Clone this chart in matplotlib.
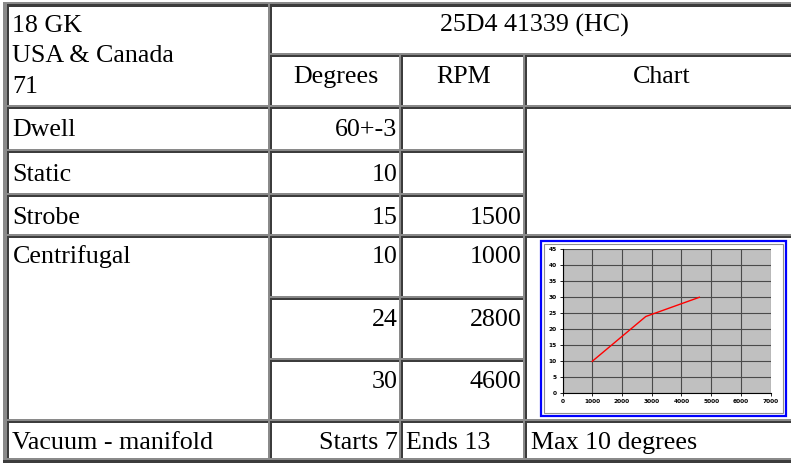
import matplotlib
matplotlib.use("Agg")
import matplotlib.pyplot as plt
from matplotlib.patches import Rectangle

# ---- data ----
title_lines = ["18 GK", "USA & Canada", "71"]
part_number = "25D4 41339 (HC)"
col_headers = ["Degrees", "RPM", "Chart"]
row_labels = ["Dwell", "Static", "Strobe", "Centrifugal", "Vacuum - manifold"]
dwell_deg = "60+-3"
static_deg = "10"
strobe_deg = "15"
strobe_rpm = "1500"
centrifugal_deg = [10, 24, 30]
centrifugal_rpm = [1000, 2800, 4600]
vacuum_text = ["Starts 7", "Ends 13", "Max 10 degrees"]
chart_xticks = [0, 1000, 2000, 3000, 4000, 5000, 6000, 7000]
chart_yticks = [0, 5, 10, 15, 20, 25, 30, 35, 40, 45]

W, H = 791, 463
fig = plt.figure(figsize=(W / 100, H / 100), dpi=100)
fig.patch.set_facecolor("white")
ax = fig.add_axes([0, 0, 1, 1])
ax.set_xlim(0, W)
ax.set_ylim(H, 0)
ax.axis("off")

DARK = "#3c3c3c"
LIGHT = "#8a8a8a"
FONT = "Liberation Serif"
FS = 18.7


def band(x0, y0, x1, y1, color):
    ax.add_patch(Rectangle((x0, y0), x1 - x0, y1 - y0, facecolor=color,
                           edgecolor="none", zorder=2))


# separators (layout)
V = [6.7, 269.5, 401, 525, 805]
Hs = [4.3, 55, 106.7, 151, 195, 236, 297.5, 359.5, 421, 460]

# outer table border
band(3.3, 1.7, 805, 4.3, LIGHT)
band(3.3, 1.7, 6.7, 462.5, LIGHT)
band(3.3, 460, 805, 462.5, DARK)


def cell(x0, y0, x1, y1):
    band(x0, y0, x1, y0 + 2.3, DARK)
    band(x0, y0, x0 + 2.3, y1, DARK)
    band(x0, y1 - 1.7, x1, y1, LIGHT)
    band(x1 - 1.7, y0, x1, y1, LIGHT)


cells = [
    (V[0], Hs[0], V[1], Hs[2]),
    (V[1], Hs[0], V[4], Hs[1]),
    (V[1], Hs[1], V[2], Hs[2]), (V[2], Hs[1], V[3], Hs[2]), (V[3], Hs[1], V[4], Hs[2]),
    (V[0], Hs[2], V[1], Hs[3]), (V[1], Hs[2], V[2], Hs[3]), (V[2], Hs[2], V[3], Hs[3]),
    (V[3], Hs[2], V[4], Hs[5]),
    (V[0], Hs[3], V[1], Hs[4]), (V[1], Hs[3], V[2], Hs[4]), (V[2], Hs[3], V[3], Hs[4]),
    (V[0], Hs[4], V[1], Hs[5]), (V[1], Hs[4], V[2], Hs[5]), (V[2], Hs[4], V[3], Hs[5]),
    (V[0], Hs[5], V[1], Hs[8]),
    (V[1], Hs[5], V[2], Hs[6]), (V[2], Hs[5], V[3], Hs[6]),
    (V[1], Hs[6], V[2], Hs[7]), (V[2], Hs[6], V[3], Hs[7]),
    (V[1], Hs[7], V[2], Hs[8]), (V[2], Hs[7], V[3], Hs[8]),
    (V[3], Hs[5], V[4], Hs[8]),
    (V[0], Hs[8], V[1], Hs[9]), (V[1], Hs[8], V[2], Hs[9]),
    (V[2], Hs[8], V[3], Hs[9]), (V[3], Hs[8], V[4], Hs[9]),
]
for c in cells:
    cell(*c)


def txt(x, y, s, ha="left"):
    ax.text(x, y, s, ha=ha, va="baseline", fontsize=FS, family=FONT,
            color="black", zorder=3)


LX = 12.5
RX_DEG = 397.5
RX_RPM = 521.5
# header
for s, yb in zip(title_lines, [31.7, 62.3, 93.3]):
    txt(LX, yb, s)
txt((V[1] + 791 + 8) / 2 + 0, 31.5, part_number, ha="center")
txt((V[1] + V[2]) / 2 + 1, 83.3, col_headers[0], ha="center")
txt((V[2] + V[3]) / 2 + 1, 83.3, col_headers[1], ha="center")
txt(662, 83.3, col_headers[2], ha="center")

# rows
txt(LX, 136.5, row_labels[0])
txt(RX_DEG, 136.5, dwell_deg, ha="right")
txt(LX, 181, row_labels[1])
txt(RX_DEG, 181, static_deg, ha="right")
txt(LX, 224, row_labels[2])
txt(RX_DEG, 224, strobe_deg, ha="right")
txt(RX_RPM, 224, strobe_rpm, ha="right")
txt(LX, 263, row_labels[3])
for d, r, yb in zip(centrifugal_deg, centrifugal_rpm, [263, 326, 388]):
    txt(RX_DEG, yb, str(d), ha="right")
    txt(RX_RPM, yb, str(r), ha="right")
txt(LX, 449, row_labels[4])
txt(RX_DEG, 449, vacuum_text[0], ha="right")
txt(406, 449, vacuum_text[1])
txt(531, 449, vacuum_text[2])

# chart frame
ax.add_patch(Rectangle((541, 241), 245, 175, facecolor="white",
                       edgecolor="#0000ff", linewidth=1.6, zorder=3))
ax.add_patch(Rectangle((543.8, 244), 239.5, 169, facecolor="none",
                       edgecolor="#909090", linewidth=0.8, zorder=3))

# inset chart
px0, px1, py0, py1 = 562.5, 770.7, 249.3, 393.3
cax = fig.add_axes([px0 / W, 1 - py1 / H, (px1 - px0) / W, (py1 - py0) / H])
cax.set_facecolor("#c0c0c0")
cax.set_xlim(0, 7000)
cax.set_ylim(0, 45)
cax.set_xticks(chart_xticks)
cax.set_yticks(chart_yticks)
cax.grid(True, color="#4a4a4a", linewidth=0.8)
cax.set_axisbelow(True)
for sp in ["top", "right"]:
    cax.spines[sp].set_visible(False)
for sp in ["left", "bottom"]:
    cax.spines[sp].set_color("black")
    cax.spines[sp].set_linewidth(0.8)
cax.tick_params(length=2, width=0.6, pad=2, labelsize=4.2, colors="black")
for lab in cax.get_xticklabels() + cax.get_yticklabels():
    lab.set_fontweight("bold")
cax.plot(centrifugal_rpm, centrifugal_deg, color="#ff0000", linewidth=1.0,
         zorder=4, clip_on=False)

fig.savefig("out.png", dpi=100, facecolor="white")
